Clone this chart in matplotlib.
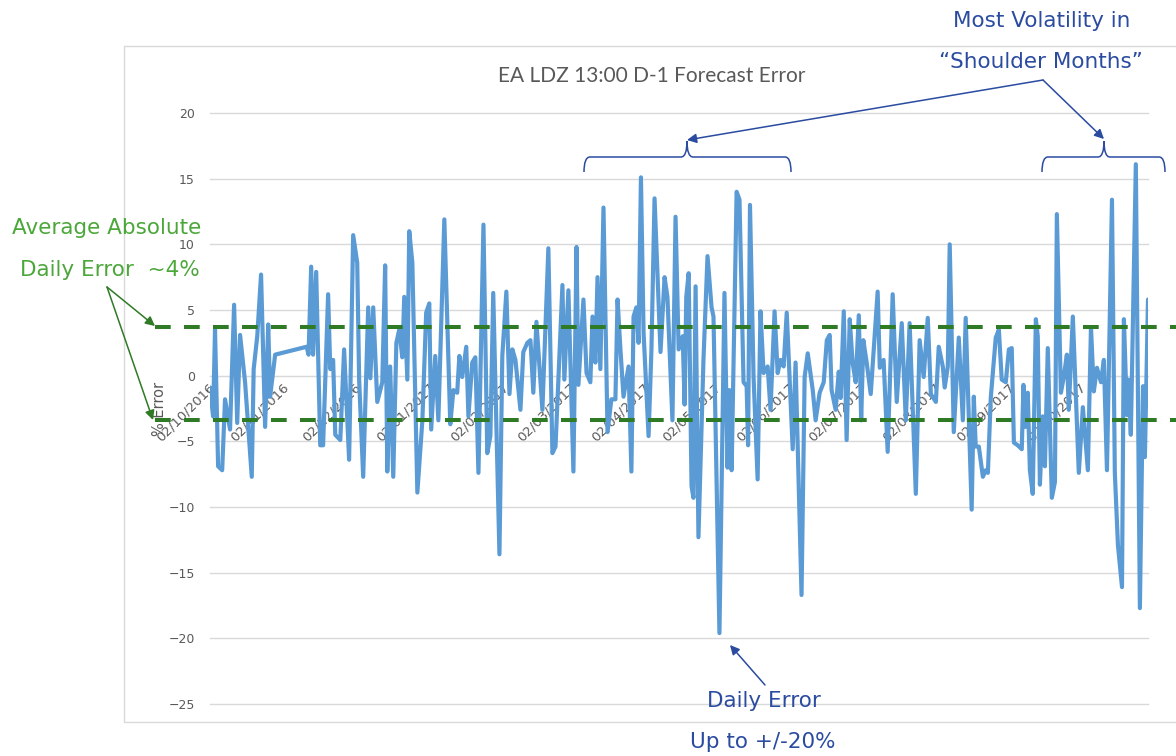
import numpy as np
import pandas as pd
import matplotlib
matplotlib.use('Agg')
import matplotlib.pyplot as plt
import matplotlib.dates as mdates
import matplotlib.transforms as mtransforms
from matplotlib.path import Path
from matplotlib.patches import PathPatch

# day offsets from 02/10/2016 and % error
days_q4_2016 = [-1.3, 0.0, 0.8, 2.1, 3.8, 5.0, 7.1, 8.8, 10.1, 11.3, 13.4, 16.2, 17.0, 18.5, 20.1,
                21.8, 23.1, 23.9, 26.0, 39.2, 40.0, 41.1, 41.9, 43.2, 44.9, 46.1, 48.2, 49.1, 50.3,
                51.2, 53.3, 54.9, 57.0, 58.7, 60.4, 61.2, 62.9, 65.0, 65.9, 67.1, 68.8, 70.9, 72.1,
                73.0, 74.2, 75.5, 76.8, 78.0, 79.3, 80.1, 81.4, 82.2, 83.5, 85.6, 87.7, 89.3, 90.6]
err_q4_2016 = [-0.9, -3.1, 3.5, -6.9, -7.2, -1.8, -4.1, 5.4, -3.6, 3.1, -0.5, -7.7, 0.5, 3.0, 7.7,
               -3.9, 3.9, -1.6, 1.6, 2.2, 1.6, 8.3, 1.6, 7.9, -5.3, -5.3, 6.2, 0.5, 1.2,
               -4.5, -4.9, 2.0, -6.4, 10.7, 8.6, -0.3, -7.7, 5.2, -0.2, 5.2, -2.0, -0.5, 8.4,
               -7.3, 0.7, -7.7, 2.5, 3.5, 1.4, 6.0, -0.3, 11.0, 8.6, -8.9, -3.4, 4.8, 5.5]

days_q1_2017 = [91.4, 93.1, 94.4, 96.9, 99.4, 100.7, 102.3, 103.2, 104.4, 106.1, 107.0, 108.6, 109.9,
                111.2, 113.3, 114.9, 116.2, 117.4, 120.0, 121.2, 122.9, 124.2, 125.4, 126.7, 128.8,
                130.0, 131.7, 133.0, 134.2, 135.5, 138.0, 140.5, 142.2, 143.5, 146.4, 147.2, 148.9,
                151.0, 152.3, 153.1, 155.2, 156.5, 158.1, 159.0, 160.2, 161.1, 162.3, 163.6, 165.3,
                166.9, 168.6, 169.5, 170.7, 172.0, 174.1, 175.3, 176.2, 177.4, 178.3, 179.3, 180.4]
err_q1_2017 = [-4.1, 1.5, -3.4, 11.9, -3.7, -1.1, -1.3, 1.5, -0.1, 2.2, -3.1, 1.0, 1.4,
               -7.4, 11.5, -5.9, -4.6, 6.3, -13.6, 1.5, 6.4, -1.4, 2.0, 1.2, -2.6,
               1.8, 2.5, 2.7, -1.3, 4.1, -2.6, 9.7, -5.9, -5.4, 6.9, -0.3, 6.5,
               -7.3, 9.8, -0.7, 5.8, 0.2, -0.5, 4.5, 1.0, 7.5, 0.5, 12.8, -4.3,
               -1.8, -1.8, 5.8, 2.0, -1.6, 0.7, -7.3, 4.5, 5.2, 2.5, 15.1, 3.3]

days_q2_2017 = [182.5, 183.7, 185.0, 187.5, 189.2, 190.4, 192.5, 193.8, 195.1, 196.8, 197.6, 198.3,
                199.3, 200.5, 201.3, 202.2, 203.4, 205.5, 207.2, 208.9, 209.7, 212.2, 214.3, 215.6,
                216.4, 217.3, 219.4, 220.6, 222.3, 223.6, 224.2, 225.0, 226.5, 228.2, 229.4, 230.7,
                232.4, 233.6, 235.3, 236.6, 237.8, 239.1, 240.4, 242.9, 244.1, 246.6, 247.9, 249.2,
                251.3, 252.5, 254.2, 255.9, 257.2, 258.4, 259.2, 260.9, 262.2, 263.0, 264.3, 265.5,
                266.8, 268.0, 269.3, 270.6]
err_q2_2017 = [-4.6, 2.0, 13.5, 1.8, 7.5, 6.0, -3.4, 12.1, 2.0, 3.0, -2.2, 6.0,
               7.8, -8.4, -9.3, 6.8, -12.3, 1.2, 9.1, 5.2, 4.5, -19.6, 6.3, -7.0,
               -1.1, -7.2, 14.0, 13.4, -0.5, -0.8, -5.3, 13.0, -0.1, -7.9, 4.9, 0.2,
               0.7, -2.6, 4.9, 0.2, 1.2, 0.7, 4.8, -5.6, 1.0, -16.7, -0.1, 1.7,
               -1.1, -3.4, -1.3, -0.5, 2.7, 3.1, -1.1, -2.6, 0.3, -1.7, 4.9, -4.9,
               4.3, 1.0, -0.5, 4.6]

days_q3_2017 = [271.6, 272.5, 273.9, 275.6, 278.5, 279.4, 281.0, 282.7, 284.8, 286.5, 288.6, 290.3,
                291.9, 294.5, 296.1, 297.8, 299.5, 300.8, 302.9, 304.1, 305.8, 306.6, 307.9, 308.7,
                310.4, 312.5, 314.2, 315.4, 317.9, 318.8, 319.6, 320.9, 322.6, 323.8, 324.7, 325.9,
                328.0, 329.3, 330.5, 332.2, 333.5, 334.7, 335.6, 337.2, 338.9, 339.6, 340.4, 341.4,
                342.3, 343.5, 344.8, 345.6, 346.5, 347.7, 348.6, 349.8, 351.5, 352.8, 353.6, 355.3,
                356.5, 357.8, 358.6, 360.3, 362.8, 364.5, 366.6, 367.9, 369.1, 370.4, 372.1, 373.3,
                374.6, 376.7, 377.9, 379.2, 380.9, 381.7, 383.0, 383.6, 384.6, 386.7, 388.4, 389.7,
                390.5, 391.8]
err_q3_2017 = [-3.4, 2.7, 1.0, -1.4, 6.4, 0.6, 1.2, -5.8, 6.2, -2.0, 4.0, -3.4,
               4.0, -9.0, 2.7, -0.1, 4.4, -1.4, -2.0, 2.2, 0.7, -0.9, 0.7, 10.0,
               -4.3, 2.9, -3.4, 4.4, -10.2, -1.6, -5.4, -5.4, -7.7, -7.2, -7.4, -1.7,
               2.9, 3.5, -0.3, -0.5, 2.0, 2.1, -5.1, -5.3, -5.6, -0.7, -3.9, -1.3,
               -7.2, -9.0, 4.3, 3.0, -8.3, -3.1, -6.9, 2.1, -9.3, -8.1, 12.3, -1.3,
               -0.1, 1.6, -2.6, 4.5, -7.4, -2.4, -7.2, 3.7, -1.2, 0.6, -0.5, 1.2,
               -7.2, 13.4, -7.4, -12.9, -16.1, 4.3, -3.0, -0.3, -4.5, 16.1, -17.7, -0.8,
               -6.2, 5.8]

avg_abs_high = 3.7
avg_abs_low = -3.4

start = pd.Timestamp('2016-10-02')
days = np.array(days_q4_2016 + days_q1_2017 + days_q2_2017 + days_q3_2017)
err = np.array(err_q4_2016 + err_q1_2017 + err_q2_2017 + err_q3_2017)
dates = (start + pd.to_timedelta(days, unit='D')).to_numpy()
tick_dates = (pd.date_range('2016-10-01', '2017-10-01', freq='MS') + pd.Timedelta(days=1)).to_numpy()

W, H = 1176, 756
grey = '#595959'
grid = '#d9d9d9'
blue_line = '#5b9bd5'
green_dash = '#2e7a25'
green_txt = '#4ca73a'
blue_txt = '#2a4ba0'

fig = plt.figure(figsize=(W / 100, H / 100), dpi=100)
ax = fig.add_axes([210 / W, 1 - 704 / H, 938 / W, 591 / H])

ax.plot(dates, err, color=blue_line, lw=3.0, solid_joinstyle='round', solid_capstyle='round', zorder=3)

ax.set_xlim(dates[0], dates[-1])
ax.set_ylim(-25, 20)
ax.set_yticks(range(-25, 21, 5))
ax.grid(axis='y', color=grid, lw=1.0)
for gl in ax.yaxis.get_gridlines():
    gl.set_clip_on(False)
ax.set_axisbelow(True)
for s in ['top', 'right', 'left']:
    ax.spines[s].set_visible(False)
ax.spines['bottom'].set_position(('data', 0))
ax.spines['bottom'].set_color(grid)

ax.set_xticks(tick_dates)
ax.xaxis.set_major_formatter(mdates.DateFormatter('%d/%m/%Y'))
ax.tick_params(axis='x', length=0, pad=7, labelsize=9.5, labelcolor=grey)
ax.tick_params(axis='y', length=0, pad=11, labelsize=9, labelcolor=grey)
plt.setp(ax.get_xticklabels(), rotation=45, ha='right', va='center', rotation_mode='anchor')

ax.set_ylabel('% Error', fontsize=10.5, color=grey)
ax.yaxis.set_label_coords(-0.046, 0.5)

# average absolute error lines, running past the plot area
trans = mtransforms.blended_transform_factory(ax.transAxes, ax.transData)
for v in (avg_abs_high, avg_abs_low):
    ax.plot([(155 - 210) / 938, (W - 210) / 938], [v, v], transform=trans, clip_on=False,
            color=green_dash, lw=2.9, dashes=(3.9, 3.3), dash_capstyle='butt', zorder=4)

fig.text(652 / W, 1 - 76 / H, 'EA LDZ 13:00 D-1 Forecast Error', ha='center', va='center',
         fontsize=15, color=grey, family='Lato')

# overlay in pixel coords for the callouts
ov = fig.add_axes([0, 0, 1, 1], zorder=5)
ov.set_xlim(0, W)
ov.set_ylim(H, 0)
ov.axis('off')

ov.plot([W, 124, 124, W], [46, 46, 722, 722], color=grid, lw=1.0)

def arrow(xy, xytext, color, lw=1.1):
    ov.annotate('', xy=xy, xytext=xytext,
                arrowprops=dict(arrowstyle='-|>', color=color, lw=lw, mutation_scale=14,
                                shrinkA=0, shrinkB=0))

def brace(x0, x1, xm, ytip, ybar, yend):
    r = 6
    verts = [(x0, yend), (x0, ybar), (x0 + r, ybar),
             (xm - r, ybar), (xm, ybar), (xm, ytip),
             (xm, ybar), (xm + r, ybar),
             (x1 - r, ybar), (x1, ybar), (x1, yend)]
    codes = [Path.MOVETO, Path.CURVE3, Path.CURVE3,
             Path.LINETO, Path.CURVE3, Path.CURVE3,
             Path.CURVE3, Path.CURVE3,
             Path.LINETO, Path.CURVE3, Path.CURVE3]
    ov.add_patch(PathPatch(Path(verts, codes), fill=False, edgecolor=blue_txt, lw=1.1))

tkw = dict(ha='center', va='center', fontsize=15.5, family='DejaVu Sans')
ov.text(107, 228, 'Average Absolute', color=green_txt, **tkw)
ov.text(110, 270, 'Daily Error  ~4%', color=green_txt, **tkw)
arrow((155, 326), (107, 287), green_dash)
arrow((153, 420), (107, 287), green_dash)

ov.text(1042, 21, 'Most Volatility in', color=blue_txt, **tkw)
ov.text(1041, 62, '\u201cShoulder Months\u201d', color=blue_txt, **tkw)
brace(584, 791, 687, 141, 157, 172)
brace(1042, 1165, 1104, 141, 157, 172)
arrow((687, 140), (1043, 80), blue_txt)
arrow((1104, 139), (1043, 80), blue_txt)

ov.text(764, 701, 'Daily Error', color=blue_txt, **tkw)
ov.text(763, 742, 'Up to +/-20%', color=blue_txt, **tkw)
arrow((730, 645), (765, 685), blue_txt)

fig.savefig('out.png', dpi=100)
